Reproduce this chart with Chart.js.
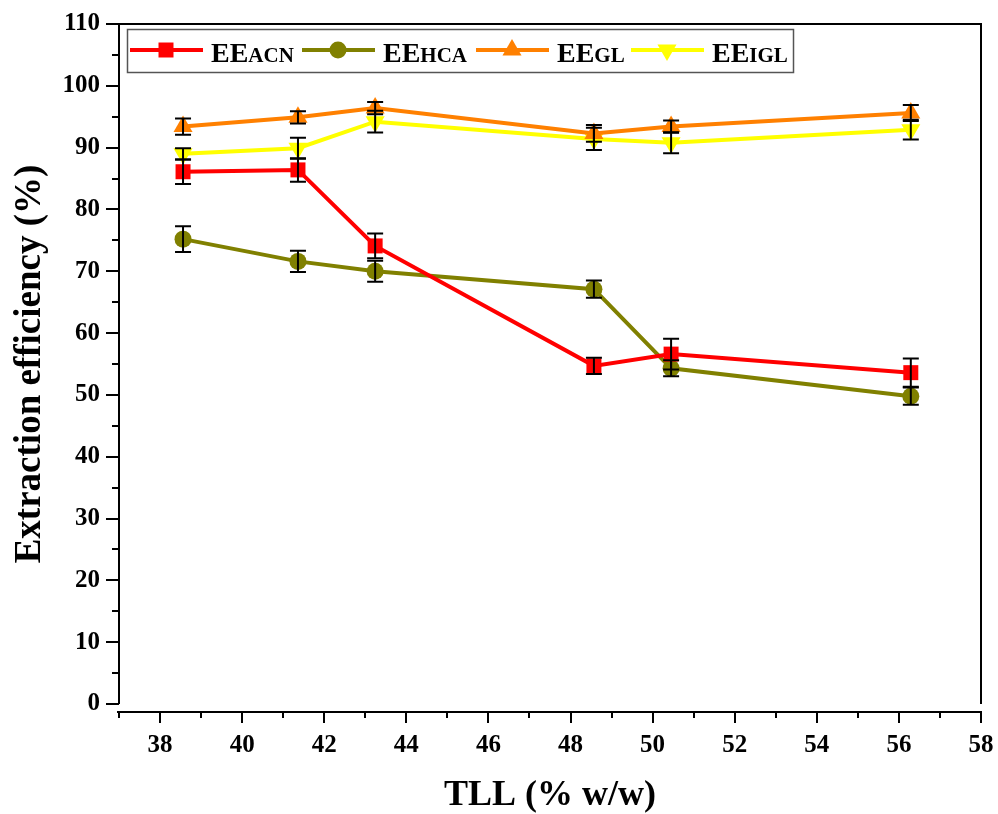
<!DOCTYPE html>
<html>
<head>
<meta charset="utf-8">
<script src="https://cdn.jsdelivr.net/npm/chart.js@4/dist/chart.umd.min.js"></script>
<style>
  body { margin: 0; background: #fff; }
  #box { width: 998px; height: 814px; }
</style>
</head>
<body>
<div id="box"><canvas id="grafico" width="998" height="814"></canvas></div>
<script>
// dados
const tll = [38.56, 41.36, 43.24, 48.57, 50.45, 56.29];

const eeACN = [86.1, 86.4, 74.1, 54.7, 56.6, 53.6];
const eeHCA = [75.2, 71.6, 70.0, 67.1, 54.3, 49.8];
const eeGL  = [93.4, 94.9, 96.4, 92.3, 93.4, 95.6];
const eeIGL = [89.0, 89.9, 94.2, 91.4, 90.8, 92.9];

// barras de erro (+/-)
const errACN = [2.0, 1.9, 2.0, 1.3, 2.5, 2.3];
const errHCA = [2.1, 1.7, 1.7, 1.4, 1.3, 1.4];
const errGL  = [1.3, 1.0, 1.0, 1.35, 1.0, 1.3];
const errIGL = [0.9, 1.7, 1.75, 1.8, 1.7, 1.6];

const nomes = ["ACN", "HCA", "GL", "IGL"];
const cores = ["#ff0000", "#808000", "#ff8000", "#ffff00"];

const yTicks = [0, 10, 20, 30, 40, 50, 60, 70, 80, 90, 100, 110];
const xTicks = [38, 40, 42, 44, 46, 48, 50, 52, 54, 56, 58];

const fonte = "'Liberation Serif', 'Times New Roman', serif";

function pontos(valores) {
    return tll.map((x, i) => ({ x: x, y: valores[i] }));
}

function serie(i, valores, erros, estilo, raio, rot) {
    return {
        label: "EE" + nomes[i],
        data: pontos(valores),
        erros: erros,
        borderColor: cores[i],
        backgroundColor: cores[i],
        borderWidth: 4,
        pointStyle: estilo,
        pointRadius: raio,
        pointHoverRadius: raio,
        pointRotation: rot,
        pointBorderWidth: 0,
        tension: 0
    };
}

// moldura, eixos com ticks menores, barras de erro e legenda
const eixosPlugin = {
    id: "eixos",
    afterDatasetsDraw(chart) {
        const ctx = chart.ctx;
        const ys = chart.scales.y;

        // barras de erro
        ctx.save();
        ctx.strokeStyle = "#000";
        ctx.lineWidth = 2;
        chart.data.datasets.forEach((ds, d) => {
            const meta = chart.getDatasetMeta(d);
            meta.data.forEach((p, i) => {
                const v = ds.data[i].y;
                const e = ds.erros[i];
                const y1 = ys.getPixelForValue(v + e);
                const y2 = ys.getPixelForValue(v - e);
                ctx.beginPath();
                ctx.moveTo(p.x, y1);
                ctx.lineTo(p.x, y2);
                ctx.moveTo(p.x - 8, y1);
                ctx.lineTo(p.x + 8, y1);
                ctx.moveTo(p.x - 8, y2);
                ctx.lineTo(p.x + 8, y2);
                ctx.stroke();
            });
        });
        ctx.restore();
    },
    afterDraw(chart) {
        const ctx = chart.ctx;
        const a = chart.chartArea;
        const xs = chart.scales.x;
        const ys = chart.scales.y;

        ctx.save();
        ctx.strokeStyle = "#000";
        ctx.lineWidth = 2;

        // esquerda, topo, direita
        ctx.beginPath();
        ctx.moveTo(a.left, a.bottom);
        ctx.lineTo(a.left, a.top);
        ctx.lineTo(a.right, a.top);
        ctx.lineTo(a.right, a.bottom);
        ctx.stroke();

        // ticks do eixo y
        ctx.beginPath();
        for (let v = 0; v <= 110; v += 5) {
            const y = Math.round(ys.getPixelForValue(v));
            const len = v % 10 === 0 ? 13 : 7;
            ctx.moveTo(a.left - len, y);
            ctx.lineTo(a.left, y);
        }
        ctx.stroke();

        // eixo x separado da moldura
        const yEixo = a.bottom + 8;
        ctx.beginPath();
        ctx.moveTo(a.left - 2, yEixo);
        ctx.lineTo(a.right + 1, yEixo);
        for (let v = 37; v <= 58; v++) {
            const x = Math.round(xs.getPixelForValue(v));
            const len = v % 2 === 0 ? 11 : 6;
            ctx.moveTo(x, yEixo);
            ctx.lineTo(x, yEixo + len);
        }
        ctx.stroke();

        // legenda
        ctx.lineWidth = 1.5;
        ctx.strokeStyle = "#555";
        ctx.strokeRect(127.5, 29.5, 666, 43);

        const inicio = [130, 302, 476, 631];
        chart.data.datasets.forEach((ds, d) => {
            const x0 = inicio[d];
            const yl = 50;
            ctx.strokeStyle = ds.borderColor;
            ctx.fillStyle = ds.backgroundColor;
            ctx.lineWidth = 4;
            ctx.beginPath();
            ctx.moveTo(x0, yl);
            ctx.lineTo(x0 + 73, yl);
            ctx.stroke();
            Chart.helpers.drawPoint(ctx, {
                pointStyle: ds.pointStyle,
                radius: ds.pointRadius,
                rotation: ds.pointRotation,
                borderWidth: 0
            }, x0 + 36, yl);

            ctx.fillStyle = "#000";
            ctx.textBaseline = "alphabetic";
            ctx.font = "bold 28px " + fonte;
            const tx = x0 + 81;
            ctx.fillText("EE", tx, 62);
            const w = ctx.measureText("EE").width;
            ctx.font = "bold 21px " + fonte;
            ctx.fillText(nomes[d], tx + w, 62);
        });
        ctx.restore();
    }
};

const ctx = document.getElementById("grafico").getContext("2d");

new Chart(ctx, {
    type: "line",
    data: {
        datasets: [
            serie(0, eeACN, errACN, "rect", 10.6, 0),
            serie(1, eeHCA, errHCA, "circle", 8.5, 0),
            serie(2, eeGL, errGL, "triangle", 11, 0),
            serie(3, eeIGL, errIGL, "triangle", 11, 180)
        ]
    },
    options: {
        responsive: false,
        animation: false,
        layout: { padding: { top: 24, right: 17, left: 0, bottom: 0 } },
        plugins: {
            legend: { display: false },
            tooltip: { enabled: false }
        },
        scales: {
            x: {
                type: "linear",
                min: 37,
                max: 58,
                afterFit(scale) {
                    scale.height = 110;
                    scale.paddingLeft = 0;
                    scale.paddingRight = 0;
                },
                afterBuildTicks(scale) {
                    scale.ticks = xTicks.map(v => ({ value: v }));
                },
                grid: { display: false, drawTicks: false },
                border: { display: false },
                ticks: {
                    autoSkip: false,
                    maxRotation: 0,
                    padding: 27,
                    color: "#000",
                    font: { family: fonte, size: 25, weight: "bold" }
                },
                title: {
                    display: true,
                    text: "TLL (% w/w)",
                    color: "#000",
                    padding: { top: 0, bottom: 0 },
                    font: { family: fonte, size: 36, weight: "bold", lineHeight: 1 }
                }
            },
            y: {
                min: 0,
                max: 110,
                afterFit(scale) {
                    scale.width = 119;
                    scale.paddingTop = 0;
                    scale.paddingBottom = 0;
                },
                afterBuildTicks(scale) {
                    scale.ticks = yTicks.map(v => ({ value: v }));
                },
                grid: { display: false, drawTicks: false },
                border: { display: false },
                ticks: {
                    padding: 19,
                    color: "#000",
                    font: { family: fonte, size: 25, weight: "bold" }
                },
                title: {
                    display: true,
                    text: "Extraction efficiency (%)",
                    color: "#000",
                    padding: { top: 12, bottom: 0 },
                    font: { family: fonte, size: 37, weight: "bold", lineHeight: 1 }
                }
            }
        }
    },
    plugins: [eixosPlugin]
});
</script>
</body>
</html>
